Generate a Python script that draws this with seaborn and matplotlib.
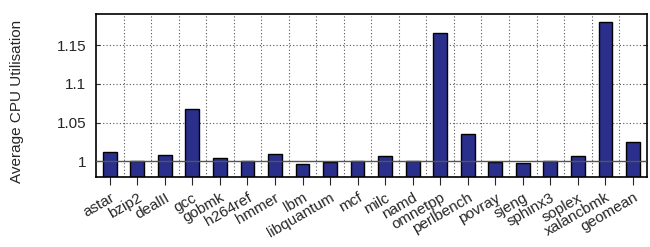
import numpy as np
import pandas as pd
import matplotlib
matplotlib.use("Agg")
import matplotlib.pyplot as plt
import seaborn as sns

benchmarks = ["astar", "bzip2", "dealII", "gcc", "gobmk", "h264ref", "hmmer", "lbm",
              "libquantum", "mcf", "milc", "namd", "omnetpp", "perlbench", "povray",
              "sjeng", "sphinx3", "soplex", "xalancbmk", "geomean"]
utilisation = [1.012, 1.000, 1.008, 1.068, 1.004, 1.000, 1.009, 0.997,
               0.999, 1.000, 1.007, 1.000, 1.166, 1.035, 0.999,
               0.998, 1.000, 1.007, 1.180, 1.025]
y_ticks = [1.0, 1.05, 1.1, 1.15]
y_tick_labels = ["1", "1.05", "1.1", "1.15"]

df = pd.DataFrame({"benchmark": benchmarks, "util": utilisation})

sns.set_style("white")
plt.rcParams["font.family"] = ["Liberation Sans", "DejaVu Sans"]

fig = plt.figure(figsize=(6.5, 2.47), dpi=100)
ax = fig.add_axes([0.1477, 0.2846, 0.8472, 0.6575])

sns.barplot(data=df, x="benchmark", y="util", color="#2a2f8c", saturation=1,
            width=0.5, edgecolor="black", linewidth=1, ax=ax, zorder=2)

ax.set_xlim(-0.5, len(benchmarks) - 0.5)
ax.set_ylim(0.98, 1.19)

# dotted grid between bars and at the y ticks
for xg in np.arange(0.5, len(benchmarks) - 1, 1.0):
    ax.axvline(xg, color="#555555", lw=0.8, ls=(0, (1, 2)), zorder=1)
for yg in y_ticks[1:]:
    ax.axhline(yg, color="#555555", lw=0.8, ls=(0, (1, 2)), zorder=1)
ax.axhline(1.0, color="#555555", lw=1.0, zorder=3)

ax.set_yticks(y_ticks)
ax.set_yticklabels(y_tick_labels, fontsize=11)
ax.tick_params(axis="y", direction="in", length=3, right=True, left=True, width=0.8, pad=7)
ax.tick_params(axis="x", direction="out", length=6, bottom=True, width=0.8, pad=4)
ax.set_xticks(range(len(benchmarks)))
ax.set_xticklabels(benchmarks, rotation=30, ha="right", rotation_mode="anchor", fontsize=11)

ax.set_xlabel("")
ax.set_ylabel("Average CPU Utilisation", fontsize=11)
ax.yaxis.set_label_coords(-0.13, 0.466)

for s in ax.spines.values():
    s.set_color("black")
    s.set_linewidth(1.2)

plt.savefig("out.png", dpi=100)
